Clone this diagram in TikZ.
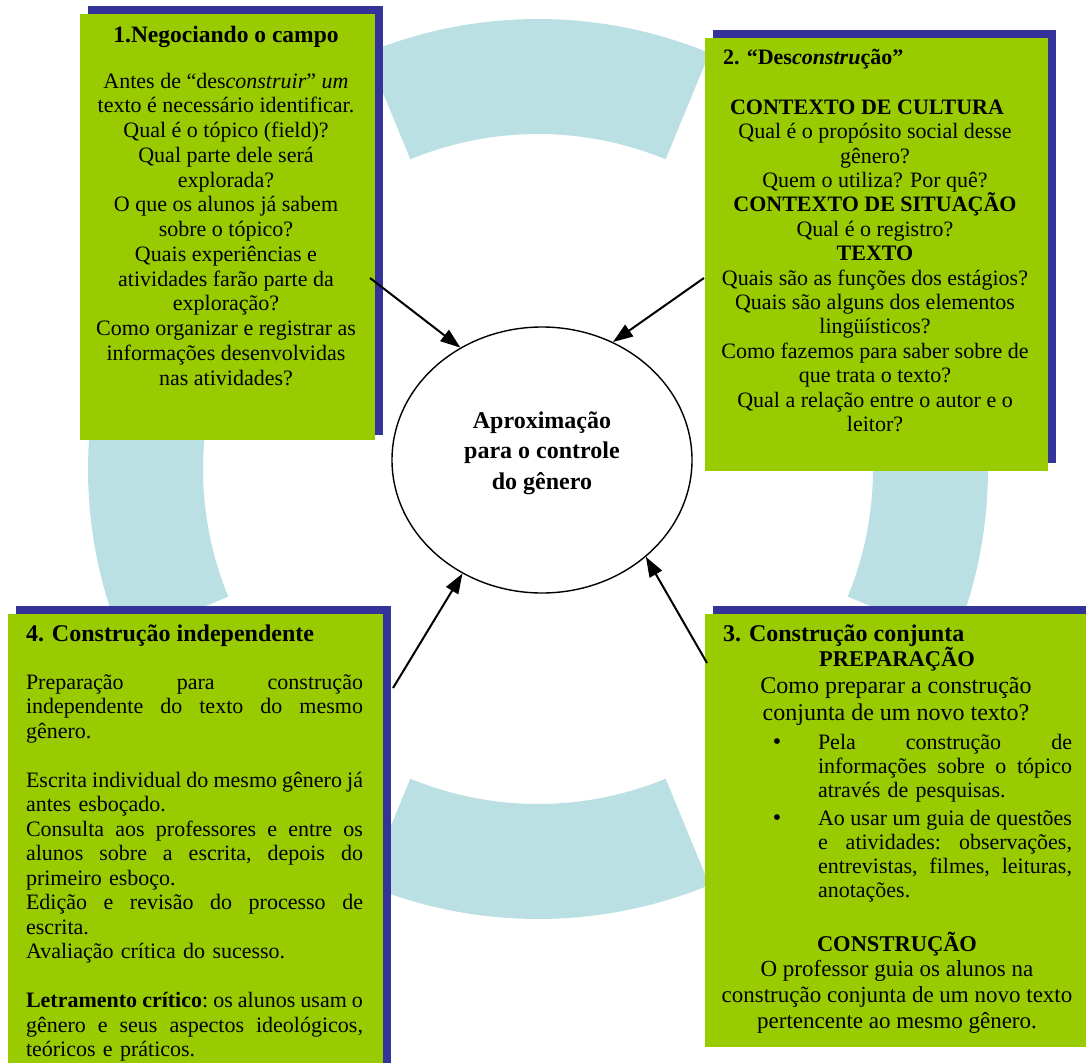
\documentclass[tikz,border=0pt]{standalone}
\usepackage{fontspec}
\setmainfont{Liberation Serif}
\usetikzlibrary{arrows.meta,shapes.geometric,calc}
\definecolor{boxgreen}{RGB}{153,204,0}
\definecolor{boxblue}{RGB}{51,51,153}
\definecolor{ringblue}{RGB}{187,224,227}
\newcommand{\fs}[2]{\fontsize{#1}{#2}\selectfont\lineskiplimit=-100pt\relax}
\newcommand{\jl}[2]{\leavevmode\hbox to #1{\frenchspacing\spaceskip=.25em plus 1fil minus .22em\relax\xspaceskip=\spaceskip#2}}
\newcommand{\fl}{\rule{0pt}{22pt}}
\begin{document}
\begin{tikzpicture}[x=1pt,y=-1pt,
  shadowbox/.style={fill=boxblue, draw=none, anchor=north west, inner sep=0pt, outer sep=0pt},
  greenbox/.style={fill=boxgreen, draw=none, anchor=north west, inner sep=0pt, outer sep=0pt},
  ring/.style={fill=ringblue, draw=none},
  txt/.style={inner sep=0pt, outer sep=0pt, text=black},
  conn/.style={line width=2pt, -{Triangle[length=20pt,width=14pt]}},
]
\useasboundingbox (0,0) rectangle (1086,1062);
\fill[white] (0,0) rectangle (1086,1062);

% ring sectors
\coordinate (C) at (538,469);
\foreach \a [evaluate=\a as \s using \a-22.4, evaluate=\a as \e using \a+22.4] in {0,90,180,270} {
  \fill[ring] ($(C)+(\s:450)$) arc[start angle=\s, end angle=\e, radius=450]
     -- ($(C)+(\e:335)$) arc[start angle=\e, end angle=\s, radius=335] -- cycle;
}

% boxes
\node[shadowbox, minimum width=295pt, minimum height=429pt] (sh1) at (88,6) {};
\node[greenbox, minimum width=295pt, minimum height=426pt] (box1) at (80,14) {};
\node[shadowbox, minimum width=343pt, minimum height=433pt] (sh2) at (713,30) {};
\node[greenbox, minimum width=343pt, minimum height=433pt] (box2) at (705,38) {};
\node[shadowbox, minimum width=381pt, minimum height=433pt] (sh3) at (713,606) {};
\node[greenbox, minimum width=381pt, minimum height=433pt] (box3) at (705,614) {};
\node[shadowbox, minimum width=375pt, minimum height=460pt] (sh4) at (16,606) {};
\node[greenbox, minimum width=375pt, minimum height=460pt] (box4) at (8,614) {};

% central ellipse
\node[draw, line width=1.4pt, shape=ellipse, minimum width=300pt, minimum height=266pt, inner sep=0pt] (circ) at (542,460) {};
\node[txt, anchor=north, align=center, font=\bfseries\fs{24}{30.5}] (circtxt) at (542,406.3)
  {\fl Aproximação\\para o controle\\do gênero};

% box 1 text
\node[txt, anchor=base, font=\bfseries\fs{23.5}{26}] (t1title) at (226,42.7) {1.Negociando o campo};
\node[txt, anchor=north, align=center, font=\fs{22}{24.75}] (t1body) at (226,66)
  {\fl Antes de “des\textit{construir}” \textit{um}\\
   texto é necessário identificar.\\
   Qual é o tópico (field)?\\
   Qual parte dele será\\
   explorada?\\
   O que os alunos já sabem\\
   sobre o tópico?\\
   Quais experiências e\\
   atividades farão parte da\\
   exploração?\\
   Como organizar e registrar as\\
   informações desenvolvidas\\
   nas atividades?};

% box 2 text
\node[txt, anchor=base west, font=\bfseries\fs{22}{24}] (t2title) at (723,65) {2. “Des\textit{constru}ção”};
\node[txt, anchor=north, align=center, font=\fs{22}{24.4}] (t2body) at (875,92.3)
  {\fl\textbf{CONTEXTO DE CULTURA}\hspace*{16pt}\\
   Qual é o propósito social desse\\
   gênero?\\
   Quem o utiliza? Por quê?\\
   \textbf{CONTEXTO DE SITUAÇÃO}\\
   Qual é o registro?\\
   \textbf{TEXTO}\\
   Quais são as funções dos estágios?\\
   Quais são alguns dos elementos\\
   lingüísticos?\\
   Como fazemos para saber sobre de\\
   que trata o texto?\\
   Qual a relação entre o autor e o\\
   leitor?};

% box 3 text
\node[txt, anchor=base west, font=\bfseries\fs{24}{26}] (t3title) at (723,641.7) {3. Construção conjunta};
\node[txt, anchor=base, font=\bfseries\fs{22.5}{26}] (t3prep) at (897,666.7) {PREPARAÇÃO};
\node[txt, anchor=north, align=center, font=\fs{24}{27.4}] (t3q) at (896,671.3)
  {\fl Como preparar a construção\\conjunta de um novo texto?};
\node[txt, anchor=base, font=\fs{24}{24}] (bul1) at (777,749.3) {\textbullet};
\node[txt, anchor=north west, align=left, text width=254pt, font=\fs{22}{24}] (t3b1) at (818,727.3)
  {\fl\jl{254pt}{Pela construção de}\\
   \jl{254pt}{informações sobre o tópico}\\
   através de pesquisas.};
\node[txt, anchor=base, font=\fs{24}{24}] (bul2) at (777,825.7) {\textbullet};
\node[txt, anchor=north west, align=left, text width=254pt, font=\fs{22}{24}] (t3b2) at (818,803.7)
  {\fl\jl{254pt}{Ao usar um guia de questões}\\
   \jl{254pt}{e atividades: observações,}\\
   \jl{254pt}{entrevistas, filmes, leituras,}\\
   anotações.};
\node[txt, anchor=base, font=\bfseries\fs{22.5}{26}] (t3cons) at (897,951) {CONSTRUÇÃO};
\node[txt, anchor=north, align=center, font=\fs{23}{26}] (t3c) at (897,954)
  {\fl O professor guia os alunos na\\
   construção conjunta de um novo texto\\
   pertencente ao mesmo gênero.};

% box 4 text
\node[txt, anchor=base west, font=\bfseries\fs{24}{26}] (t4title) at (26,641.7) {4. Construção independente};
\node[txt, anchor=north west, align=left, text width=337pt, font=\fs{22}{24.5}] (t4body) at (26,667.3)
  {\fl\jl{337pt}{Preparação para construção}\\
   \jl{337pt}{independente do texto do mesmo}\\
   gênero.\\[24.5pt]
   \jl{337pt}{Escrita individual do mesmo gênero já}\\
   antes esboçado.\\
   \jl{337pt}{Consulta aos professores e entre os}\\
   \jl{337pt}{alunos sobre a escrita, depois do}\\
   primeiro esboço.\\
   \jl{337pt}{Edição e revisão do processo de}\\
   escrita.\\
   Avaliação crítica do sucesso.\\[24.5pt]
   \jl{337pt}{\textbf{Letramento crítico}: os alunos usam o}\\
   \jl{337pt}{gênero e seus aspectos ideológicos,}\\
   teóricos e práticos.};

% connectors
\coordinate (a1) at (370,278);
\coordinate (a2) at (704,278);
\coordinate (a3) at (393,688);
\coordinate (a4) at (707,663);
\draw[conn] (a1) -- (circ.126);
\draw[conn] (a2) -- (circ.59);
\draw[conn] (a3) -- (circ.235);
\draw[conn] (a4) -- (circ.317);
\end{tikzpicture}
\end{document}
